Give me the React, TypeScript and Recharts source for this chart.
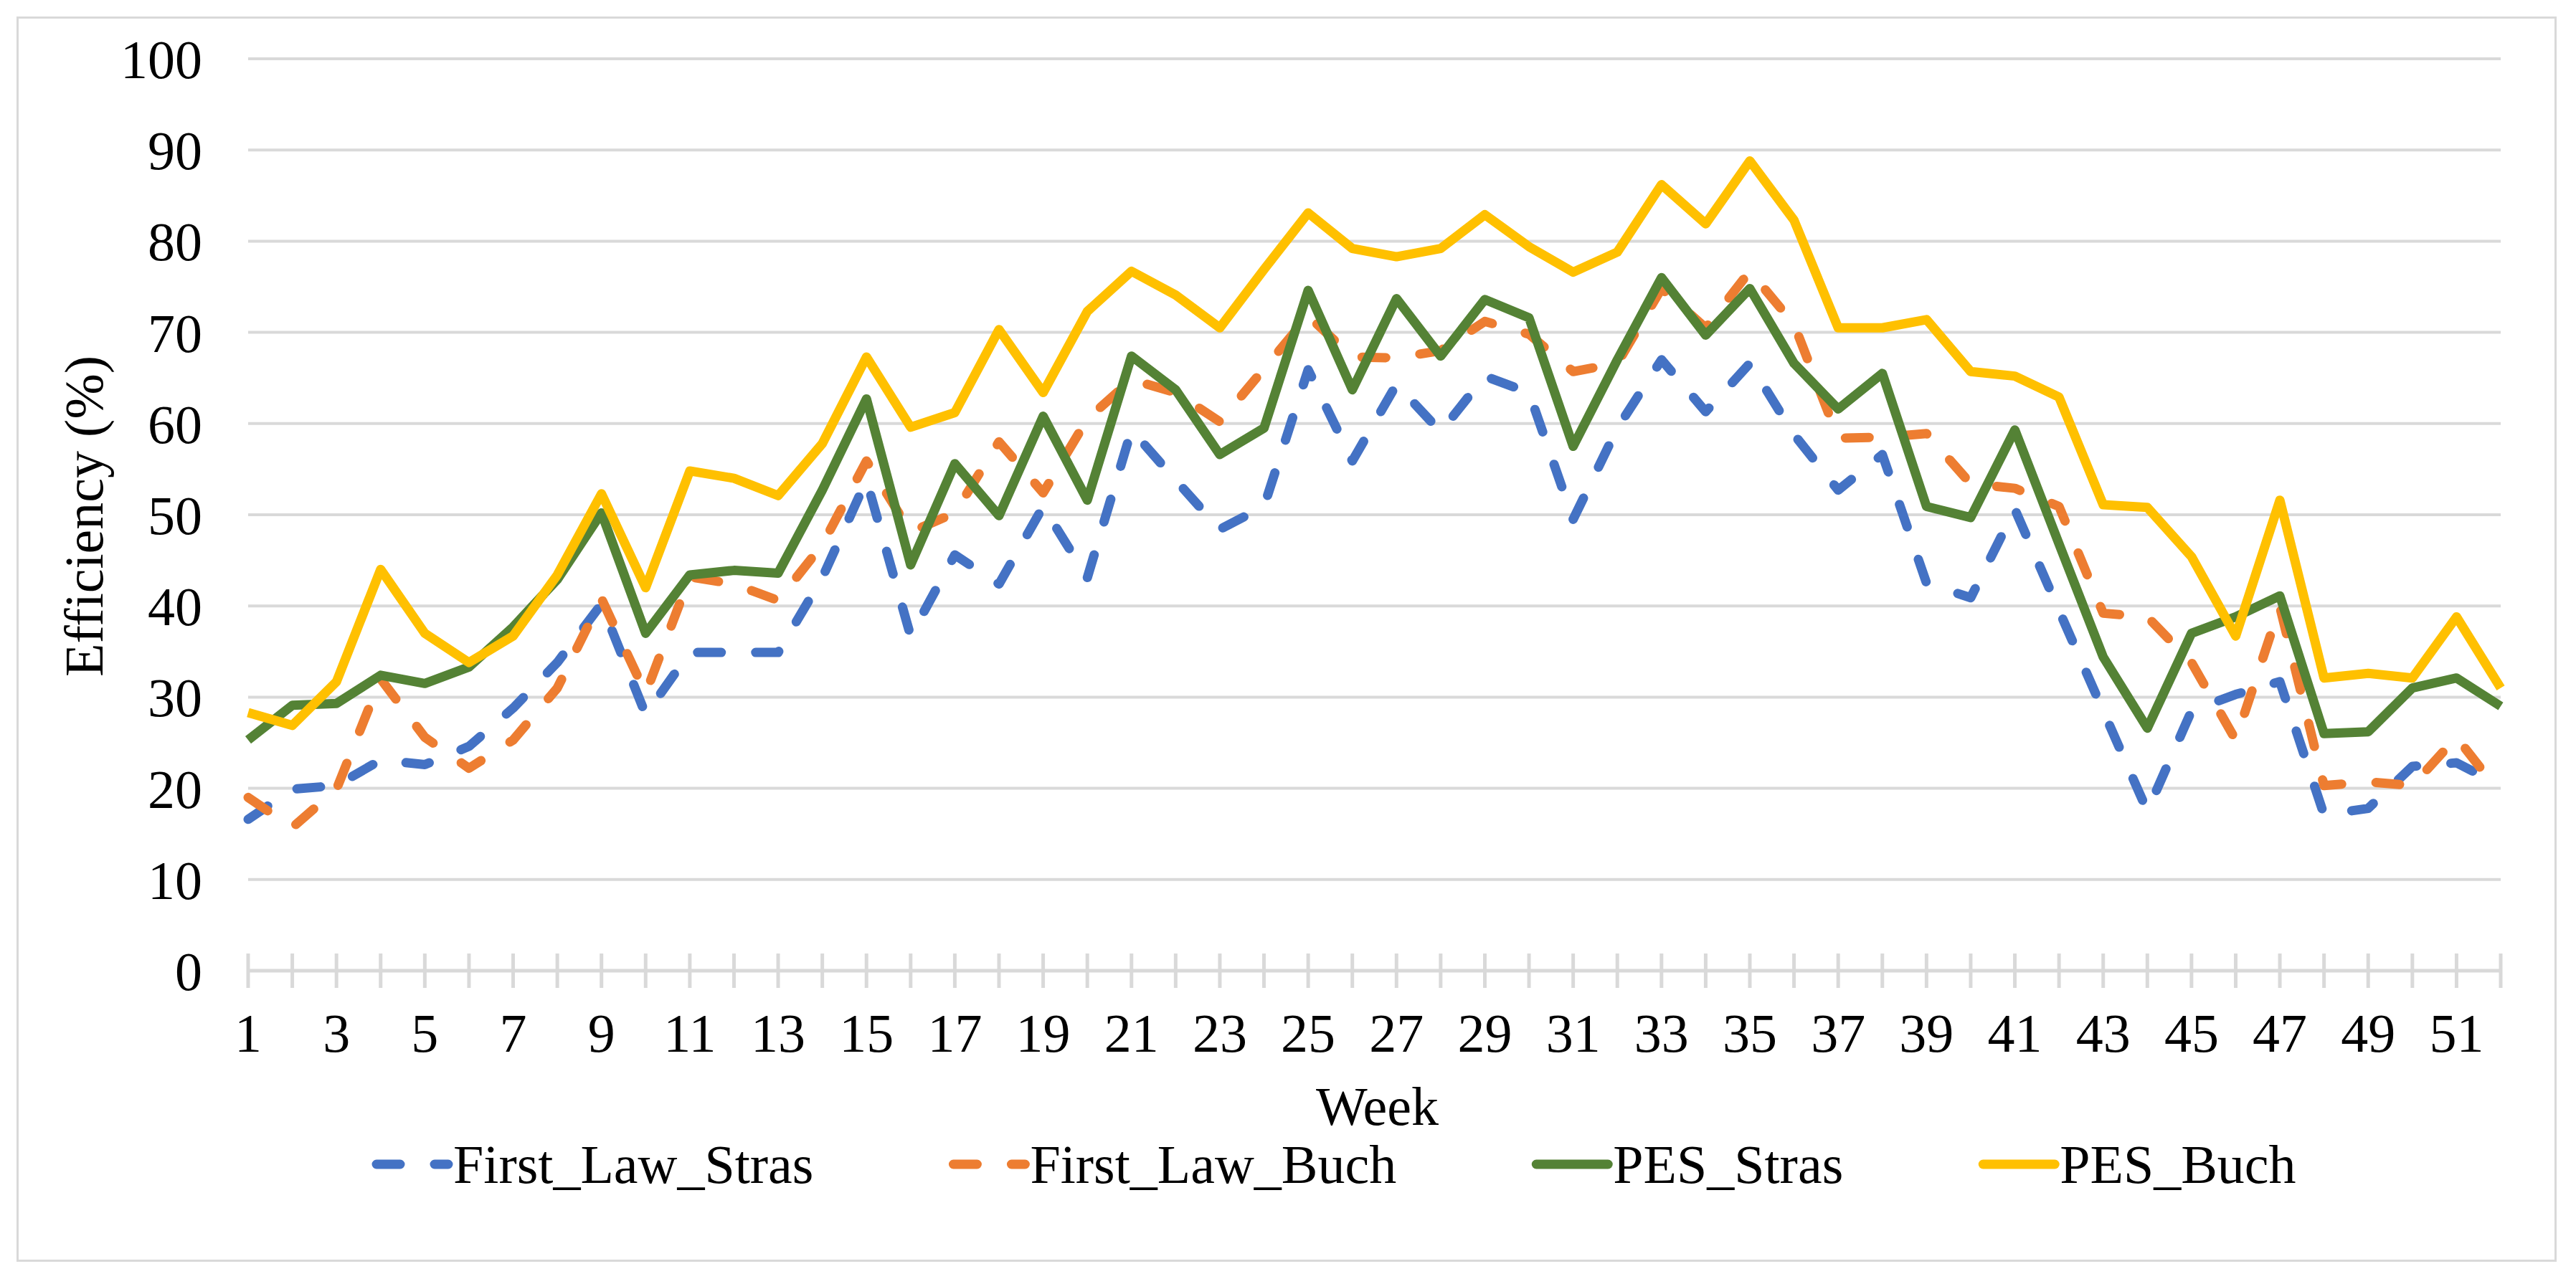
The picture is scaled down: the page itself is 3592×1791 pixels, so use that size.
import { LineChart, Line, XAxis, YAxis, CartesianGrid } from "recharts";

const weeks = [
  1, 2, 3, 4, 5, 6, 7, 8, 9, 10, 11, 12, 13, 14, 15, 16, 17, 18, 19, 20, 21, 22, 23, 24, 25, 26,
  27, 28, 29, 30, 31, 32, 33, 34, 35, 36, 37, 38, 39, 40, 41, 42, 43, 44, 45, 46, 47, 48, 49, 50,
  51, 52,
];

const firstLawStras = [
  16.6, 19.9, 20.3, 23.1, 22.6, 24.6, 28.8, 33.8, 40.2, 28.1, 34.9, 34.9, 34.9, 43.1, 53.8, 36.7,
  45.6, 42.4, 50.9, 43.1, 59.3, 53.8, 48.4, 50.9, 65.9, 55.9, 64.3, 59.1, 65.2, 63.4, 49.5, 59.5,
  67.0, 61.3, 66.6, 58.8, 52.7, 56.6, 42.5, 40.9, 50.6, 39.5, 28.5, 17.5, 28.5, 30.3, 31.7, 17.1,
  17.8, 22.4, 22.8, 20.3,
];

const firstLawBuch = [
  19.0, 15.7, 19.9, 32.0, 25.6, 22.2, 25.3, 31.0, 40.8, 30.4, 43.2, 42.4, 40.6, 46.7, 55.9, 48.1,
  50.2, 58.0, 52.4, 60.5, 64.8, 63.4, 60.2, 66.0, 71.8, 67.3, 67.2, 68.0, 71.2, 69.8, 65.7, 66.6,
  74.8, 70.5, 76.7, 70.9, 58.4, 58.5, 58.9, 53.4, 52.9, 50.9, 39.2, 38.8, 33.8, 25.3, 39.9, 20.3,
  20.7, 20.3, 25.6, 19.4,
];

const pesStras = [
  25.3, 29.1, 29.3, 32.4, 31.5, 33.3, 37.7, 42.9, 50.2, 37.0, 43.4, 43.9, 43.6, 52.7, 62.7, 44.5,
  55.6, 49.9, 60.8, 51.6, 67.4, 63.7, 56.6, 59.5, 74.6, 63.7, 73.7, 67.4, 73.6, 71.6, 57.5, 67.0,
  76.0, 69.7, 74.8, 66.6, 61.6, 65.5, 50.9, 49.7, 59.3, 46.8, 34.4, 26.6, 37.0, 38.8, 41.1, 26.0,
  26.2, 31.0, 32.1, 29.0,
];

const pesBuch = [
  28.3, 26.9, 31.7, 44.0, 37.0, 33.8, 36.7, 43.4, 52.3, 42.0, 54.8, 54.0, 52.1, 57.8, 67.3, 59.6,
  61.2, 70.3, 63.4, 72.3, 76.7, 74.1, 70.5, 76.9, 83.1, 79.2, 78.3, 79.2, 82.9, 79.4, 76.6, 78.8,
  86.2, 81.9, 88.8, 82.3, 70.5, 70.5, 71.4, 65.7, 65.2, 62.9, 51.1, 50.8, 45.4, 36.7, 51.6, 32.1,
  32.6, 32.1, 38.8, 31.0,
];

const yTicks = [0, 10, 20, 30, 40, 50, 60, 70, 80, 90, 100];

const series = [
  { key: "firstLawStras", name: "First_Law_Stras", color: "#4472C4", dashed: true },
  { key: "firstLawBuch", name: "First_Law_Buch", color: "#ED7D31", dashed: true },
  { key: "pesStras", name: "PES_Stras", color: "#548235", dashed: false },
  { key: "pesBuch", name: "PES_Buch", color: "#FFC000", dashed: false },
];

const data = weeks.map((week, i) => ({
  week,
  firstLawStras: firstLawStras[i],
  firstLawBuch: firstLawBuch[i],
  pesStras: pesStras[i],
  pesBuch: pesBuch[i],
}));

const FONT = "'Liberation Serif', 'Times New Roman', serif";
const FONT_SIZE = 76;
const GRID = "#d9d9d9";
const LINE_W = 13;
const DASH = "33 48";

// measure legend text so the items can be laid out one after another
function textWidth(s: string) {
  try {
    const ctx = document.createElement("canvas").getContext("2d");
    if (ctx) {
      ctx.font = `${FONT_SIZE}px ${FONT}`;
      return ctx.measureText(s).width;
    }
  } catch (e) {}
  return s.length * FONT_SIZE * 0.45;
}

function WeekTick({ x, y, payload }: any) {
  const w = payload.value;
  return (
    <g>
      <line x1={x} x2={x} y1={y - 24} y2={y + 24} stroke={GRID} strokeWidth={5} />
      {w % 2 === 1 && (
        <text x={x} y={y + 113} textAnchor="middle" fontFamily={FONT} fontSize={FONT_SIZE} fill="#000">
          {w}
        </text>
      )}
    </g>
  );
}

function WeekTitle({ viewBox }: any) {
  return (
    <text
      x={viewBox.x + viewBox.width / 2 + 4}
      y={viewBox.y + 215}
      textAnchor="middle"
      fontFamily={FONT}
      fontSize={FONT_SIZE}
      fill="#000"
    >
      Week
    </text>
  );
}

function EffTitle({ viewBox }: any) {
  const cy = viewBox.y + viewBox.height / 2 + 2;
  return (
    <text
      transform={`translate(143, ${cy}) rotate(-90)`}
      textAnchor="middle"
      fontFamily={FONT}
      fontSize={FONT_SIZE}
      fill="#000"
    >
      Efficiency (%)
    </text>
  );
}

function LegendRow() {
  const iconW = 114;
  const gap = 188;
  let cursor = 518;
  const items = series.map((s) => {
    const x = cursor;
    cursor += iconW + textWidth(s.name) + gap;
    return { ...s, x };
  });
  return (
    <svg
      width={3592}
      height={200}
      style={{ position: "absolute", left: 0, top: 1550, display: "block" }}
    >
      {items.map((s) => (
        <g key={s.key}>
          <line
            x1={s.x + 7}
            x2={s.x + 107}
            y1={74}
            y2={74}
            stroke={s.color}
            strokeWidth={LINE_W}
            strokeDasharray={s.dashed ? DASH : undefined}
            strokeLinecap="round"
          />
          <text x={s.x + iconW} y={100} fontFamily={FONT} fontSize={FONT_SIZE} fill="#000">
            {s.name}
          </text>
        </g>
      ))}
    </svg>
  );
}

export default function App() {
  return (
    <div
      style={{
        position: "absolute",
        left: 0,
        top: 0,
        width: 3592,
        height: 1791,
        background: "#fff",
        overflow: "hidden",
      }}
    >
      <div
        style={{
          position: "absolute",
          left: 23,
          top: 23,
          width: 3542,
          height: 1737,
          border: `3px solid ${GRID}`,
          boxSizing: "border-box",
        }}
      />
      <div style={{ position: "absolute", left: 0, top: 0 }}>
        <LineChart
          width={3592}
          height={1791}
          data={data}
          margin={{ top: 82, right: 105, bottom: 0, left: 0 }}
        >
          <CartesianGrid vertical={false} stroke={GRID} strokeWidth={4} />
          <XAxis
            dataKey="week"
            type="number"
            domain={[1, 52]}
            ticks={weeks}
            interval={0}
            height={437}
            tickSize={0}
            tickMargin={0}
            tickLine={false}
            axisLine={{ stroke: GRID, strokeWidth: 5 }}
            tick={<WeekTick />}
            label={(p: any) => <WeekTitle {...p} />}
          />
          <YAxis
            domain={[0, 100]}
            ticks={yTicks}
            interval={0}
            width={346}
            axisLine={false}
            tickLine={false}
            tickSize={0}
            tickMargin={64}
            tick={{ fontFamily: FONT, fontSize: FONT_SIZE, fill: "#000" }}
            label={(p: any) => <EffTitle {...p} />}
          />
          {series.map((s) => (
            <Line
              key={s.key}
              type="linear"
              dataKey={s.key}
              name={s.name}
              stroke={s.color}
              strokeWidth={LINE_W}
              strokeDasharray={s.dashed ? DASH : undefined}
              strokeLinecap={s.dashed ? "round" : "butt"}
              strokeLinejoin="round"
              dot={false}
              activeDot={false}
              isAnimationActive={false}
            />
          ))}
        </LineChart>
      </div>
      <LegendRow />
    </div>
  );
}
